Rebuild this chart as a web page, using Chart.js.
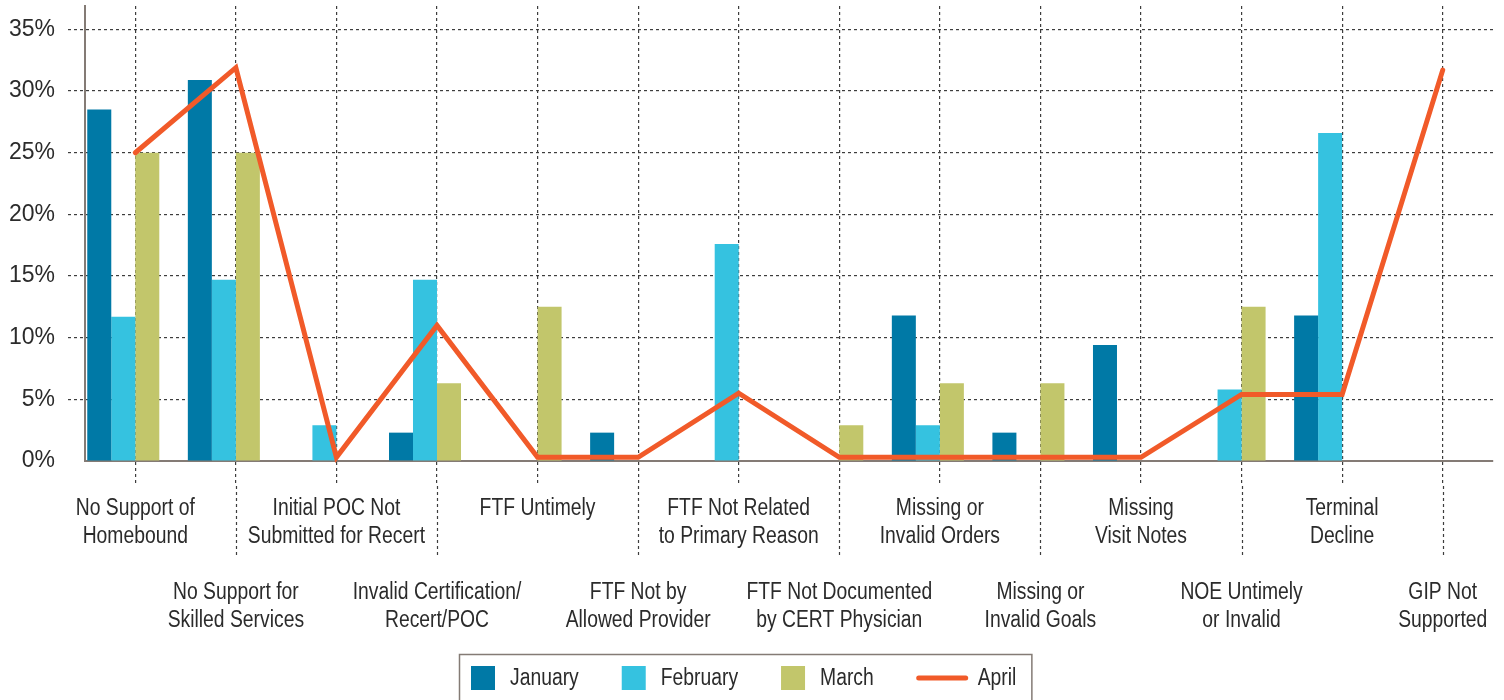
<!DOCTYPE html>
<html>
<head>
<meta charset="utf-8">
<script src="https://cdn.jsdelivr.net/npm/chart.js@4.4.1/dist/chart.umd.min.js"></script>
<style>
  html,body{margin:0;padding:0;background:#fff;}
  #wrap{position:relative;width:1504px;height:700px;}
</style>
</head>
<body>
<div id="wrap"><canvas id="c"></canvas></div>
<script>
const categories = [
  ['No Support of','Homebound'],
  ['No Support for','Skilled Services'],
  ['Initial POC Not','Submitted for Recert'],
  ['Invalid Certification/','Recert/POC'],
  ['FTF Untimely'],
  ['FTF Not by','Allowed Provider'],
  ['FTF Not Related','to Primary Reason'],
  ['FTF Not Documented','by CERT Physician'],
  ['Missing or','Invalid Orders'],
  ['Missing or','Invalid Goals'],
  ['Missing','Visit Notes'],
  ['NOE Untimely','or Invalid'],
  ['Terminal','Decline'],
  ['GIP Not','Supported']
];
const january  = [28.5, 30.9, 0,   2.3, 0,    2.3, 0,    0,   11.8, 2.3, 9.4, 0,    11.8, 0];
const february = [11.7, 14.7, 2.9, 14.7, 0,   0,   17.6, 0,   2.9,  0,   0,   5.8,  26.6, 0];
const march    = [25,   25,   0,   6.3, 12.5, 0,   0,    2.9, 6.3,  6.3, 0,   12.5, 0,    0];
const april    = [25,   31.9, 0.3, 11,  0.3,  0.3, 5.5,  0.3, 0.3,  0.3, 0.3, 5.4,  5.4,  31.7];
const yTicks = [0, 5, 10, 15, 20, 25, 30, 35];

const FONT = '"Liberation Sans", Arial, sans-serif';
const SQUEEZE = 0.84;   // source labels use a condensed face
const TEXT = '#2b2b2b';
const GRID = '#3d3d3d';
const COLORS = { jan:'#0079a6', feb:'#35c2e0', mar:'#c2c66b', apr:'#f15a29' };

function narrowText(ctx, s, x, y){
  ctx.save(); ctx.translate(x, y); ctx.scale(SQUEEZE, 1); ctx.fillText(s, 0, 0); ctx.restore();
}

// staggered category labels + long dashed ticks on the second row
const catLabels = {
  id:'catLabels',
  afterDraw(chart){
    const x=chart.scales.x, ctx=chart.ctx, b=chart.chartArea.bottom;
    ctx.save();
    ctx.strokeStyle=GRID; ctx.lineWidth=1.2; ctx.setLineDash([3,3]);
    categories.forEach((_,i)=>{
      if(i%2===0) return;
      const px=Math.round(x.getPixelForValue(i))+0.5;
      ctx.beginPath(); ctx.moveTo(px,b+25); ctx.lineTo(px,b+96); ctx.stroke();
    });
    ctx.setLineDash([]);
    ctx.font='23px '+FONT; ctx.fillStyle=TEXT; ctx.textAlign='center'; ctx.textBaseline='alphabetic';
    categories.forEach((lines,i)=>{
      const px=x.getPixelForValue(i), y0=b+54+(i%2)*84;
      lines.forEach((t,j)=> narrowText(ctx, t, px, y0+j*28));
    });
    ctx.restore();
  }
};

const boxLegend = {
  id:'boxLegend',
  afterDraw(chart){
    const ctx=chart.ctx;
    const items=[
      {t:'January', c:COLORS.jan, line:false},
      {t:'February',c:COLORS.feb, line:false},
      {t:'March',   c:COLORS.mar, line:false},
      {t:'April',   c:COLORS.apr, line:true}
    ];
    const x0=459, top=654, cy=678;
    ctx.save();
    ctx.font='23px '+FONT;
    ctx.textBaseline='middle'; ctx.textAlign='left';
    let x=x0+12;
    items.forEach((it,i)=>{
      if(it.line){
        ctx.strokeStyle=it.c; ctx.lineWidth=5; ctx.lineCap='round';
        ctx.beginPath(); ctx.moveTo(x+2,cy); ctx.lineTo(x+49,cy); ctx.stroke();
        x+=51+10;
      } else {
        ctx.fillStyle=it.c; ctx.fillRect(x,cy-12,24,24);
        x+=24+15;
      }
      ctx.fillStyle=TEXT; narrowText(ctx, it.t, x, cy+1);
      x+=ctx.measureText(it.t).width*SQUEEZE;
      if(i<items.length-1) x+=43;
    });
    x+=15;
    ctx.strokeStyle='#847b75'; ctx.lineWidth=1.5;
    ctx.strokeRect(x0+0.5,top+0.5,x-x0,60);
    ctx.restore();
  }
};

new Chart(document.getElementById('c'), {
  data:{
    labels:categories.map(l=>l.join(' ')),
    datasets:[
      {type:'line', label:'April', data:april, borderColor:COLORS.apr, borderWidth:5,
       pointRadius:0, tension:0, borderJoinStyle:'miter', borderCapStyle:'round', order:0, clip:false},
      {type:'bar', label:'January', data:january, backgroundColor:COLORS.jan, order:1},
      {type:'bar', label:'February', data:february, backgroundColor:COLORS.feb, order:1},
      {type:'bar', label:'March', data:march, backgroundColor:COLORS.mar, order:1},
      // empty slot kept where April's bar would sit
      {type:'bar', label:'', data:categories.map(()=>null), backgroundColor:'transparent', order:1}
    ]
  },
  options:{
    responsive:true, maintainAspectRatio:false, animation:false,
    layout:{padding:{top:6,right:11,bottom:66,left:0}},
    datasets:{bar:{categoryPercentage:0.955, barPercentage:1, borderWidth:0}},
    plugins:{legend:{display:false}, tooltip:{enabled:false}},
    scales:{
      x:{
        offset:true,
        afterFit(s){ s.height=173; s.paddingLeft=0; s.paddingRight=0; },
        grid:{offset:false, color:GRID, lineWidth:1.2, tickLength:25,
              tickBorderDash:[3,3], tickColor:GRID},
        border:{display:true, color:'#847b75', width:2, dash:[3,3]},
        ticks:{display:false, autoSkip:false, maxRotation:0, minRotation:0}
      },
      y:{
        min:0, max:36.9,
        afterFit(s){ s.width=85; s.paddingTop=0; s.paddingBottom=0; },
        afterBuildTicks(s){ s.ticks = yTicks.map(v=>({value:v})); },
        grid:{color:(c)=> c.tick && c.tick.value===0 ? 'rgba(0,0,0,0)' : GRID, lineWidth:1.2, tickLength:17,
              tickColor:(c)=> c.tick && c.tick.value===0 ? 'rgba(0,0,0,0)' : GRID, tickBorderDash:[3,3]},
        border:{display:true, color:'#847b75', width:2, dash:[3,3]},
        ticks:{padding:13, color:TEXT, font:{family:FONT, size:23},
               callback:(v)=> v+'%'}
      }
    }
  },
  plugins:[catLabels, boxLegend]
});
</script>
</body>
</html>
